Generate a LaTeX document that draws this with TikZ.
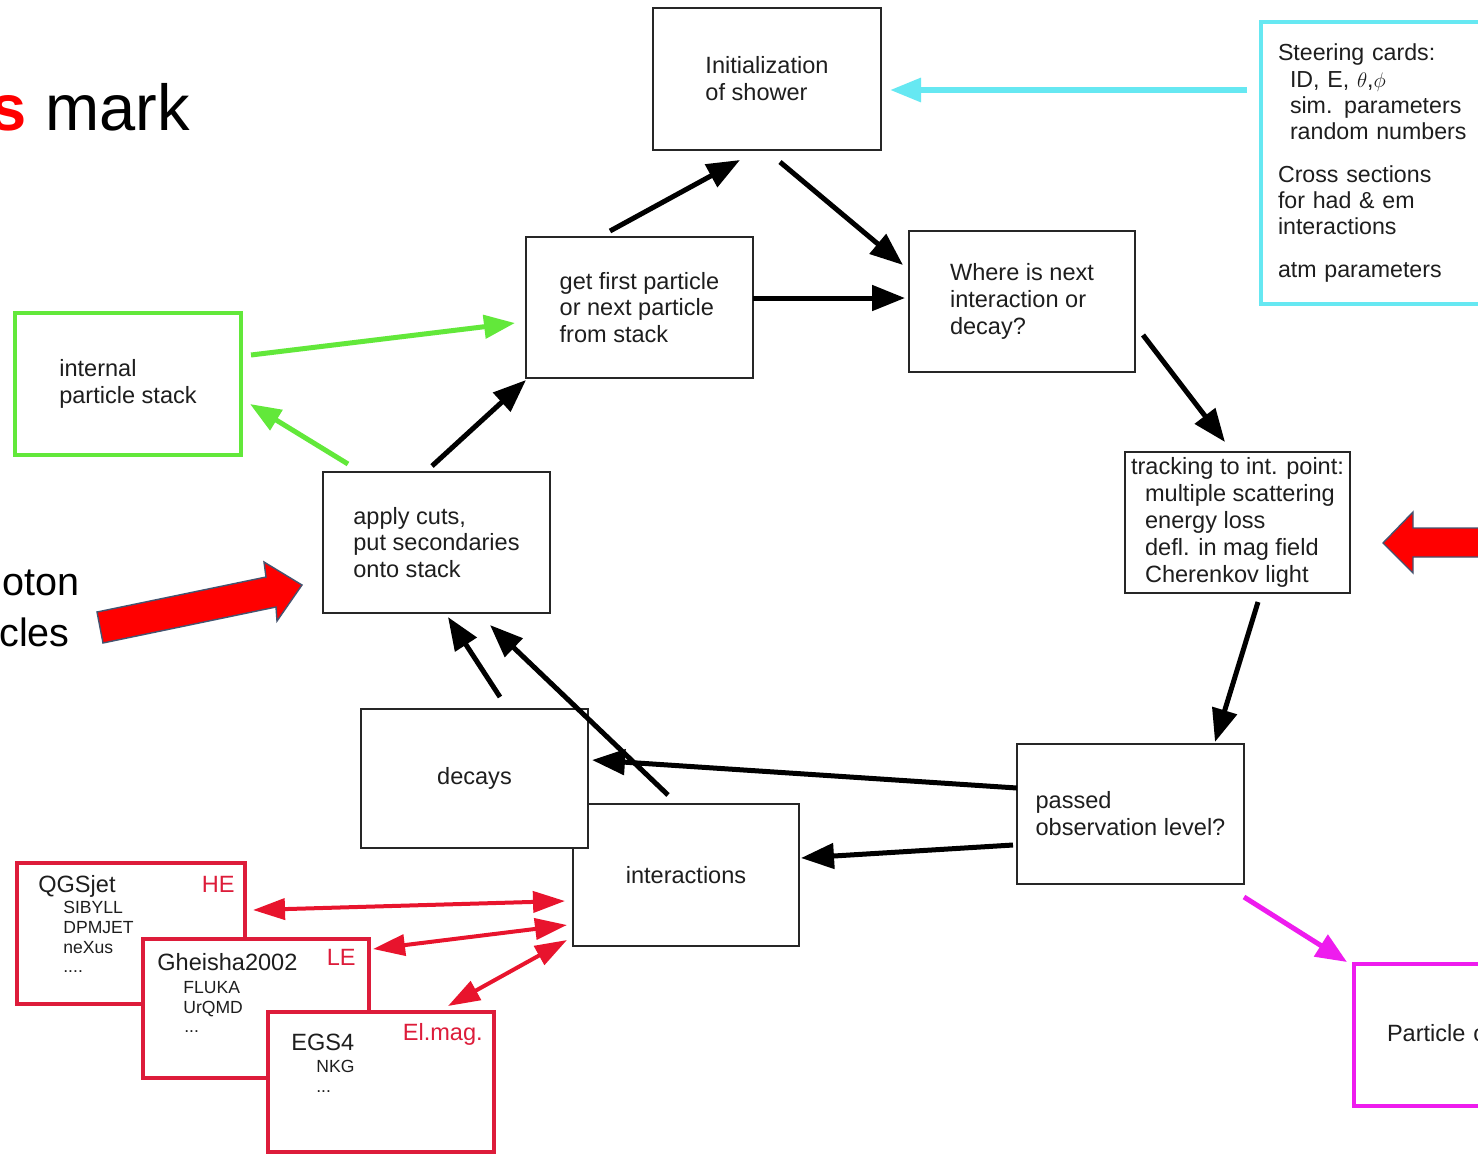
\documentclass[tikz,border=0pt]{standalone}
\usepackage{fontspec}
\setmainfont{Liberation Sans}
\usetikzlibrary{arrows.meta,calc}
\definecolor{boxred}{RGB}{221,28,58}
\definecolor{arrred}{RGB}{232,20,45}
\definecolor{grn}{RGB}{98,232,58}
\definecolor{cyn}{RGB}{102,232,242}
\definecolor{mag}{RGB}{238,28,238}
\definecolor{slate}{RGB}{68,84,112}
\definecolor{txt}{RGB}{30,30,30}
\newcommand\mainsz{\fontsize{13.4}{15.3}\selectfont}
\newcommand\smallsz{\fontsize{10}{12}\selectfont}
\tikzset{
  box/.style={draw=black!85, line width=0.04cm, fill=white, align=left, text=txt, font=\mainsz, inner sep=0pt},
  redbox/.style={draw=boxred, line width=0.08cm, fill=white, inner sep=0pt, minimum width=4.52cm},
  lbl/.style={text=txt, font=\mainsz, inner sep=0pt},
  sml/.style={text=txt, font=\smallsz, inner sep=0pt},
  redlbl/.style={text=boxred, font=\mainsz, inner sep=0pt},
  blk/.style={line width=0.1cm, draw=black, -{Triangle[length=0.66cm,width=0.5cm]}},
  grnarr/.style={line width=0.1cm, draw=grn, -{Triangle[length=0.62cm,width=0.46cm]}},
  cynarr/.style={line width=0.12cm, draw=cyn, -{Triangle[length=0.62cm,width=0.46cm]}},
  magarr/.style={line width=0.1cm, draw=mag, -{Triangle[length=0.62cm,width=0.5cm]}},
  redarr/.style={line width=0.08cm, draw=arrred, {Triangle[length=0.64cm,width=0.42cm]}-{Triangle[length=0.64cm,width=0.42cm]}},
  blockarr/.style={fill=red, draw=slate, line width=0.8pt, line join=miter},
}
\begin{document}
\begin{tikzpicture}[x=0.02cm, y=-0.02cm]
\useasboundingbox (0,0) rectangle (1478,1154);
\clip (0,0) rectangle (1478,1154);
\fill[white] (0,0) rectangle (1478,1154);

% big texts at the left, cut by the edge
\node[anchor=base east, font=\fontsize{37}{40}\selectfont, inner sep=0pt] (ttl) at (190,130) {\textcolor{red}{\bfseries s} mark};
\node[anchor=base east, font=\fontsize{22.5}{24}\selectfont, inner sep=0pt] (prt1) at (80,595) {oton};
\node[anchor=base east, font=\fontsize{22.5}{24}\selectfont, inner sep=0pt] (prt2) at (70,646) {cles};

% main flow boxes
\node[box, minimum width=4.56cm, minimum height=2.84cm] (init) at (767,79) {Initialization\\of shower};
\node[box, draw=cyn, line width=0.08cm, anchor=west, minimum height=5.66cm, text width=4.5cm, inner xsep=0.34cm, inner ysep=0pt, font=\fontsize{13.2}{15}\selectfont] (steer) at (1259,163)
 {Steering cards:\\
  \hspace*{0.24cm}ID, E, $\theta$,$\phi$\\
  \hspace*{0.24cm}sim. parameters\\
  \hspace*{0.24cm}random numbers\\[0.32cm]
  Cross sections\\
  for had \& em\\
  interactions\\[0.32cm]
  atm parameters};
\node[box, minimum width=4.54cm, minimum height=2.82cm] (getf) at (639.5,307.5) {get first particle\\or next particle\\from stack};
\node[box, minimum width=4.52cm, minimum height=2.82cm] (where) at (1022,301.5) {Where is next\\interaction or\\decay?};
\node[box, draw=grn, line width=0.08cm, minimum width=4.52cm, minimum height=2.84cm] (stack) at (128,384) {internal\\particle stack};
\node[box, minimum width=4.54cm, minimum height=2.82cm] (cuts) at (436.5,542.5) {apply cuts,\\put secondaries\\onto stack};
\node[box, minimum width=4.5cm, minimum height=2.82cm] (track) at (1237.5,522.5)
 {tracking to int. point:\\
  \hspace*{0.28cm}multiple scattering\\
  \hspace*{0.28cm}energy loss\\
  \hspace*{0.28cm}defl. in mag field\\
  \hspace*{0.28cm}Cherenkov light};
\node[box, minimum width=4.54cm, minimum height=2.80cm] (passed) at (1130.5,814) {passed\\observation level?};
\node[box, minimum width=4.52cm, minimum height=2.84cm] (inter) at (686,875) {interactions};
\node[box, minimum width=4.54cm, minimum height=2.78cm] (decays) at (474.5,778.5) {decays};
\node[box, draw=mag, line width=0.08cm, anchor=west, minimum height=2.84cm, text width=3.9cm, inner xsep=0.66cm] (out) at (1352,1035) {Particle output};

% model boxes
\node[redbox, minimum width=4.56cm, minimum height=2.82cm] (qgs) at (131,933.5) {};
\node[lbl, anchor=base west] (qgst) at (38,892) {QGSjet};
\node[redlbl, anchor=base east] (he) at (235,892) {HE};
\node[sml, anchor=base west] (q1) at (63,913) {SIBYLL};
\node[sml, anchor=base west] (q2) at (63,933) {DPMJET};
\node[sml, anchor=base west] (q3) at (63,953) {neXus};
\node[sml, anchor=base west] (q4) at (63,972) {....};

\node[redbox, minimum height=2.78cm] (ghe) at (256,1008.5) {};
\node[lbl, anchor=base west] (ghet) at (157,970) {Gheisha2002};
\node[redlbl, anchor=base east] (le) at (356,965) {LE};
\node[sml, anchor=base west] (g1) at (183,993) {FLUKA};
\node[sml, anchor=base west] (g2) at (183,1013) {UrQMD};
\node[sml, anchor=base west] (g3) at (184,1032) {...};

\node[redbox, minimum height=2.80cm] (egs) at (381,1082) {};
\node[lbl, anchor=base west] (egst) at (291,1050) {EGS4};
\node[redlbl, anchor=base east] (em) at (483,1040) {El.mag.};
\node[sml, anchor=base west] (e1) at (316,1072) {NKG};
\node[sml, anchor=base west] (e2) at (316,1092) {...};

% black connectors
\draw[blk] ($(getf)+(-29.5,-76.5)$) -- ($(init)+(-27,81)$);
\draw[blk] ($(init)+(13,83)$) -- ($(where)+(-119,-36.5)$);
\draw[blk] ($(getf)+(113.5,-9.5)$) -- ($(where)+(-117,-3.5)$);
\draw[blk] ($(where)+(121,33.5)$) -- ($(track)+(-12.5,-80.5)$);
\draw[blk] ($(track)+(20.5,79.5)$) -- ($(passed)+(84.5,-72)$);
\draw[blk] ($(passed)+(-113.5,-26)$) -- ($(decays)+(117.5,-18.5)$);
\draw[blk] ($(passed)+(-117.5,31)$) -- ($(inter)+(115,-17)$);
\draw[blk] ($(inter)+(-18,-80)$) -- ($(cuts)+(53.5,82.5)$);
\draw[blk] ($(decays)+(25.5,-81.5)$) -- ($(cuts)+(11.5,74.5)$);
\draw[blk] ($(cuts)+(-4.5,-76.5)$) -- ($(getf)+(-113.5,72.5)$);

% coloured connectors
\draw[grnarr] ($(stack)+(123,-29)$) -- ($(getf)+(-124.5,15.5)$);
\draw[grnarr] ($(cuts)+(-88.5,-78.5)$) -- ($(stack)+(122,20)$);
\draw[cynarr] ($(steer.west)+(-12,-73)$) -- ($(init)+(123,11)$);
\draw[magarr] ($(passed)+(113.5,83)$) -- ($(out.west)+(-5,-73)$);
\draw[redarr] ($(qgs)+(122,-23.5)$) -- ($(inter)+(-121,26)$);
\draw[redarr] ($(ghe)+(117,-59.5)$) -- ($(inter)+(-119,50)$);
\draw[redarr] ($(egs)+(67,-76)$) -- ($(inter)+(-119,65)$);

% block arrows
\draw[blockarr] (97,612) -- (266,577) -- (264,562) -- (302,585) -- (277,621) -- (276,607) -- (103,643) -- cycle;
\draw[blockarr] (1383,543) -- (1413,512) -- (1413,528) -- (1500,528) -- (1500,557) -- (1413,557) -- (1413,573) -- cycle;
\end{tikzpicture}
\end{document}
